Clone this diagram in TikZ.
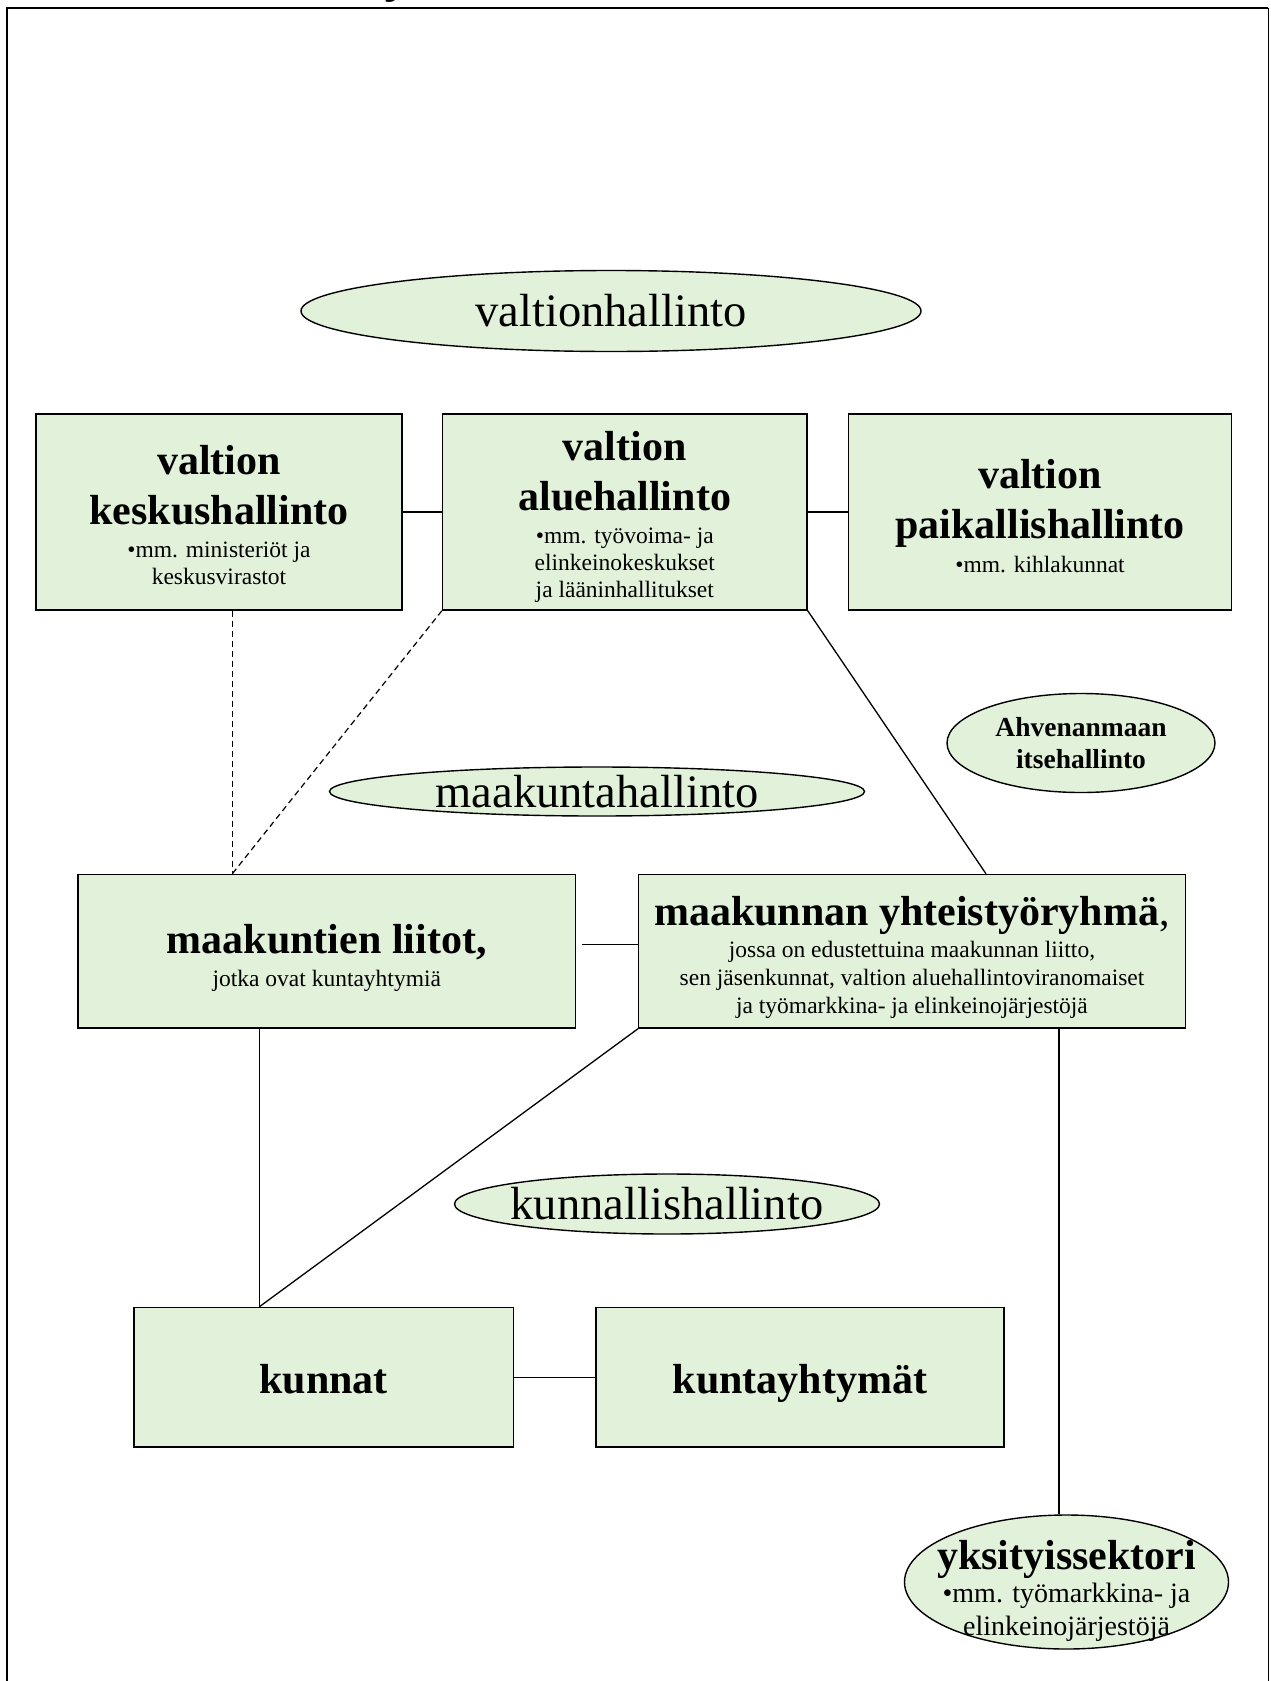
\documentclass[tikz,border=0pt]{standalone}
\usepackage{fontspec}
\setmainfont{Liberation Serif}
\usetikzlibrary{shapes.geometric}
\definecolor{boxfill}{RGB}{226,241,217}
\newcommand{\BoxTitle}[1]{\fontsize{42}{#1}\selectfont\bfseries}
\newcommand{\BoxSmall}[1]{\fontsize{23.5}{#1}\selectfont\mdseries}
\tikzset{
  box/.style={draw=black, line width=1.4pt, fill=boxfill, rectangle, inner sep=0pt, align=flush center},
  ell/.style={draw=black, line width=1.4pt, fill=boxfill, ellipse, inner sep=0pt},
  lbl/.style={inner sep=0pt, align=flush center},
  conn/.style={line width=1.3pt},
  dconn/.style={line width=1.2pt, dash pattern=on 6pt off 4pt},
  bigtext/.style={font=\fontsize{46.5}{52}\selectfont},
}
\begin{document}
\begin{tikzpicture}[x=1pt, y=-1pt]
\useasboundingbox (0,0) rectangle (1271,1681);
% frame
\draw[line width=2pt] (6.5,1681) -- (6.5,7.5) -- (1268,7.5);
\draw[line width=1pt] (1268,7.5) -- (1268,1681);
\node[lbl, anchor=base, font=\BoxTitle{46}] (jfrag) at (393,-6) {j};

% ellipses (labels)
\node[ell, minimum width=620pt, minimum height=81pt] (valtio) at (611,311) {};
\node[lbl, bigtext] (valtiot) at (valtio.center) {valtionhallinto};

\node[ell, minimum width=268pt, minimum height=99pt] (ahv) at (1081,743) {};
\node[lbl, text width=250pt] (ahvt) at (ahv.center)
  {\fontsize{27.5}{32}\selectfont\bfseries Ahvenanmaan\par itsehallinto\par};

\node[ell, minimum width=535pt, minimum height=49pt] (maak) at (597,791.5) {};
\node[lbl, bigtext] (maakt) at (maak.center) {maakuntahallinto};

\node[ell, minimum width=425pt, minimum height=60pt] (kunh) at (667,1204) {};
\node[lbl, bigtext] (kunht) at (kunh.center) {kunnallishallinto};

\node[ell, minimum width=324pt, minimum height=134pt] (yks) at (1066.5,1582) {};
\node[lbl, text width=300pt] (ykst) at ([yshift=-9pt]yks.center)
  {{\BoxTitle{46}yksityissektori\par}%
   {\fontsize{28}{33}\selectfont\mdseries •mm. työmarkkina- ja\par elinkeinojärjestöjä\par}};

% boxes
\node[box, minimum width=366pt, minimum height=196pt] (kesk) at (219,512) {};
\node[lbl, text width=346pt] (keskt) at ([yshift=-3.5pt]kesk.center)
  {{\BoxTitle{50}valtion\par keskushallinto\par}\vspace{6pt}%
   {\BoxSmall{27}•mm. ministeriöt ja\par keskusvirastot\par}};
\node[box, minimum width=364.4pt, minimum height=196pt] (alue) at (624.8,512) {};
\node[lbl, text width=344pt] (aluet) at ([yshift=-5pt]alue.center)
  {{\BoxTitle{50}valtion\par aluehallinto\par}\vspace{6pt}%
   {\BoxSmall{27}•mm. työvoima- ja\par elinkeinokeskukset\par ja lääninhallitukset\par}};
\node[box, minimum width=383pt, minimum height=196pt] (paik) at (1040,512) {};
\node[lbl, text width=363pt] (paikt) at ([yshift=-4.3pt]paik.center)
  {{\BoxTitle{50}valtion\par paikallishallinto\par}\vspace{7pt}%
   {\BoxSmall{27}•mm. kihlakunnat\par}};
\node[box, minimum width=497.5pt, minimum height=153.5pt] (liit) at (326.75,951.25) {};
\node[lbl, text width=477pt] (liitt) at ([yshift=-6.4pt]liit.center)
  {{\BoxTitle{48}maakuntien liitot,\par}\vspace{6pt}%
   {\BoxSmall{27}jotka ovat kuntayhtymiä\par}};
\node[box, minimum width=546.6pt, minimum height=153.5pt] (yht) at (912,951.25) {};
\node[lbl, text width=536pt] (yhtt) at ([yshift=-6pt]yht.center)
  {{\BoxTitle{48}maakunnan yhteistyöryhmä{\mdseries,}\par}\vspace{4pt}%
   {\BoxSmall{28}jossa on edustettuina maakunnan liitto,\par sen jäsenkunnat, valtion aluehallintoviranomaiset\par ja työmarkkina- ja elinkeinojärjestöjä\par}};
\node[box, minimum width=379.3pt, minimum height=139.5pt, text height=35pt, text depth=3pt] (kunn) at (323.65,1377.25)
  {\BoxTitle{48}kunnat};
\node[box, minimum width=408.3pt, minimum height=139.5pt, text height=35pt, text depth=3pt] (kty) at (800,1377.25)
  {\BoxTitle{48}kuntayhtymät};

% connectors
\coordinate (dtop) at ([xshift=155pt]liit.north west);
\coordinate (ktop) at ([xshift=126pt]kunn.north west);
\coordinate (ytop) at ([xshift=421pt]yht.south west);
\draw[conn] (kesk.east) -- (alue.west);
\draw[conn] (alue.east) -- (paik.west);
\draw[dconn] (kesk.south -| dtop) -- (dtop);
\draw[dconn] (alue.south west) -- (dtop);
\draw[conn] (alue.south east) -- ([xshift=348pt]yht.north west);
\draw[conn] ([xshift=6pt,yshift=7pt]liit.east) -- ([yshift=7pt]yht.west);
\draw[conn] (ktop |- liit.south) -- (ktop);
\draw[conn] (yht.south west) -- (ktop);
\draw[conn] (ytop) -- (ytop |- yks.north);
\draw[conn] (kunn.east) -- (kty.west);
\end{tikzpicture}
\end{document}
